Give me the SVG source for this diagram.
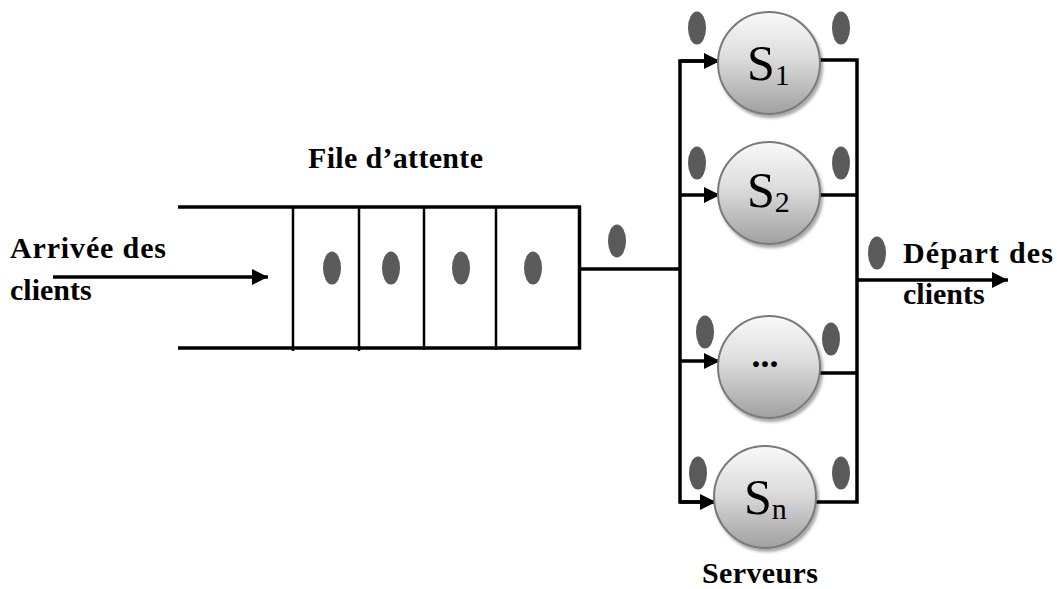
<svg xmlns="http://www.w3.org/2000/svg" width="1057" height="589" viewBox="0 0 1057 589">
  <style>
    .lbl { font-family: "Liberation Serif", "Times New Roman", serif; font-weight: bold; font-size: 30px; fill: #000; }
    .srv { font-family: "Liberation Serif", "Times New Roman", serif; font-size: 50px; fill: #000; }
    .sub { font-family: "Liberation Serif", "Times New Roman", serif; font-size: 30px; fill: #000; }
    .line { stroke: #000; stroke-width: 3.5; fill: none; }
    .thin { stroke: #000; stroke-width: 2.5; fill: none; }
    .client { fill: #5a5a5a; }
    .disk { fill: url(#diskFill); stroke: #7a7a7a; stroke-width: 2; }
  </style>
  <defs>
    <linearGradient id="diskFill" x1="0" y1="0" x2="0" y2="1">
      <stop offset="0" stop-color="#f9f9f9"/>
      <stop offset="0.45" stop-color="#dcdcdc"/>
      <stop offset="1" stop-color="#a0a0a0"/>
    </linearGradient>
    <filter id="shade" x="-20%" y="-20%" width="150%" height="150%">
      <feGaussianBlur in="SourceAlpha" stdDeviation="1.5"/>
      <feOffset dx="2" dy="3" result="b"/>
      <feComponentTransfer><feFuncA type="linear" slope="0.35"/></feComponentTransfer>
      <feMerge><feMergeNode/><feMergeNode in="SourceGraphic"/></feMerge>
    </filter>
    <marker id="arrow" viewBox="0 0 16 16" refX="16" refY="8" markerWidth="16" markerHeight="16" markerUnits="userSpaceOnUse" orient="auto">
      <path d="M0,0 L16,8 L0,16 Z" fill="#000"/>
    </marker>
  </defs>
  <rect width="1057" height="589" fill="#fff"/>

  <!-- queue buffer -->
  <g id="queue">
    <line class="line" x1="178" y1="207" x2="581" y2="207"/>
    <line class="line" x1="178" y1="348" x2="581" y2="348"/>
    <line class="thin" x1="293" y1="208" x2="293" y2="351"/>
    <line class="thin" x1="359" y1="208" x2="359" y2="351"/>
    <line class="thin" x1="424" y1="208" x2="424" y2="350"/>
    <line class="thin" x1="496" y1="208" x2="496" y2="350"/>
    <line class="line" x1="579.5" y1="206" x2="579.5" y2="349"/>
    <ellipse class="client" cx="332" cy="268" rx="9" ry="16.5"/>
    <ellipse class="client" cx="391" cy="268" rx="9" ry="16.5"/>
    <ellipse class="client" cx="461" cy="268" rx="9" ry="16.5"/>
    <ellipse class="client" cx="533" cy="268" rx="9" ry="16.5"/>
    <text class="lbl" x="308" y="168" textLength="175" lengthAdjust="spacing">File d’attente</text>
  </g>

  <!-- connectors -->
  <g id="connectors">
    <line class="line" x1="53" y1="277" x2="268" y2="277" marker-end="url(#arrow)"/>
    <line class="line" x1="580" y1="269" x2="680" y2="269"/>
    <polyline class="line" points="718,61 680,61 680,502 716,502"/>
    <line class="line" x1="680" y1="61" x2="720" y2="61" marker-end="url(#arrow)"/>
    <line class="line" x1="680" y1="195" x2="720" y2="195" marker-end="url(#arrow)"/>
    <line class="line" x1="680" y1="361" x2="720" y2="361" marker-end="url(#arrow)"/>
    <line class="line" x1="680" y1="502" x2="716" y2="502" marker-end="url(#arrow)"/>
    <polyline class="line" points="820,60 857,60 857,502 815,502"/>
    <line class="line" x1="820" y1="195" x2="857" y2="195"/>
    <line class="line" x1="820" y1="373" x2="857" y2="373"/>
    <line class="line" x1="857" y1="280" x2="1008" y2="280" marker-end="url(#arrow)"/>
    <ellipse class="client" cx="617" cy="241" rx="9" ry="16.5"/>
    <ellipse class="client" cx="877" cy="253" rx="9" ry="16.5"/>
  </g>

  <!-- servers -->
  <g id="server-1">
    <circle class="disk" filter="url(#shade)" cx="769" cy="63" r="51"/>
    <text x="747" y="80"><tspan class="srv">S</tspan><tspan class="sub" dy="5">1</tspan></text>
    <ellipse class="client" cx="697" cy="28" rx="9" ry="16.5"/>
    <ellipse class="client" cx="841" cy="28" rx="9" ry="16.5"/>
  </g>
  <g id="server-2">
    <circle class="disk" filter="url(#shade)" cx="769" cy="193" r="51"/>
    <text x="747" y="207"><tspan class="srv">S</tspan><tspan class="sub" dy="5">2</tspan></text>
    <ellipse class="client" cx="697" cy="163" rx="9" ry="16.5"/>
    <ellipse class="client" cx="841" cy="163" rx="9" ry="16.5"/>
  </g>
  <g id="server-dots">
    <circle class="disk" filter="url(#shade)" cx="769" cy="367" r="51"/>
    <text class="lbl" x="765" y="367" text-anchor="middle" style="font-size:36px">...</text>
    <ellipse class="client" cx="705" cy="332" rx="9" ry="16.5"/>
    <ellipse class="client" cx="831" cy="339" rx="9" ry="16.5"/>
  </g>
  <g id="server-n">
    <circle class="disk" filter="url(#shade)" cx="765" cy="497" r="51"/>
    <text x="744" y="514"><tspan class="srv">S</tspan><tspan class="sub" dy="5">n</tspan></text>
    <ellipse class="client" cx="698" cy="473" rx="9" ry="16.5"/>
    <ellipse class="client" cx="841" cy="473" rx="9" ry="16.5"/>
  </g>

  <!-- labels -->
  <g id="labels">
    <text class="lbl" x="10" y="258" textLength="156" lengthAdjust="spacing">Arrivée des</text>
    <text class="lbl" x="10" y="300">clients</text>
    <text class="lbl" x="903" y="263" textLength="150" lengthAdjust="spacing">Départ des</text>
    <text class="lbl" x="903" y="304">clients</text>
    <text class="lbl" x="702" y="583" textLength="116" lengthAdjust="spacing">Serveurs</text>
  </g>
</svg>
